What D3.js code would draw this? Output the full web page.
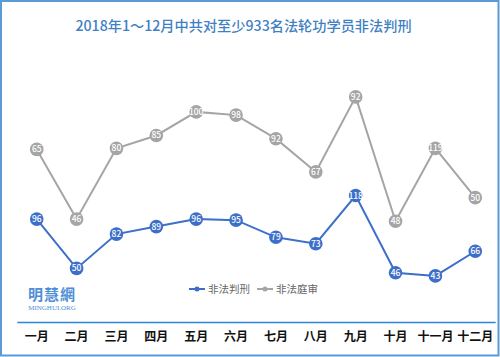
<!DOCTYPE html>
<html><head><meta charset="utf-8">
<script src="https://cdn.jsdelivr.net/npm/d3@7"></script>
<style>html,body{margin:0;padding:0;background:#fff;}svg{display:block;}</style>
</head><body>
<script>
const titleText = "2018年1～12月中共对至少933名法轮功学员非法判刑";
const months = ["一月","二月","三月","四月","五月","六月","七月","八月","九月","十月","十一月","十二月"];
const sentenced = [96,50,82,89,96,95,79,73,118,46,43,66];
const tried = [65,46,80,85,100,98,92,67,92,48,119,50];
const seriesNames = ["非法判刑","非法庭审"];

const W = 500, H = 357;
const svg = d3.select("body").append("svg").attr("width", W).attr("height", H);
const font = "'Noto Sans CJK SC','Noto Sans',sans-serif";

svg.append("rect").attr("x",1).attr("y",1).attr("width",W-2.5).attr("height",H-2.5)
  .attr("fill","#fff").attr("stroke","#5b9bd5").attr("stroke-width",2);

svg.append("text").attr("x",243.5).attr("y",31).attr("text-anchor","middle")
  .attr("font-family",font).attr("font-size",14.2).attr("font-weight",500).attr("fill","#3f7fc4").text(titleText);

const x = d3.scaleBand().domain(months).range([16.8, 495.2]);
const y = d3.scaleLinear().domain([0, 250]).range([322, 54]);

const stacked = d3.stack().keys([0,1])(months.map((m,i)=>[sentenced[i], tried[i]]));

// axis
const xAxis = svg.append("g").attr("transform","translate(0,322)")
  .call(d3.axisBottom(x).tickSize(0).tickPadding(10));
xAxis.select(".domain").attr("stroke","#2f86d6").attr("stroke-width",1.5);
xAxis.selectAll("text").attr("font-family",font).attr("font-size",12).attr("font-weight","bold").attr("fill","#111");

const cx = m => x(m) + x.bandwidth()/2;
const colors = ["#3d6fc9","#a5a5a5"];
const labelVals = [sentenced, tried];

[1,0].forEach(k => {
  const pts = stacked[k].map((d,i)=>[cx(months[i]), y(d[1])]);
  svg.append("path").attr("d", d3.line()(pts)).attr("fill","none")
    .attr("stroke",colors[k]).attr("stroke-width",2);
  const g = svg.append("g");
  pts.forEach((p,i)=>{
    g.append("circle").attr("cx",p[0]).attr("cy",p[1]).attr("r",6.8).attr("fill",colors[k]);
    g.append("text").attr("x",p[0]).attr("y",p[1]+3).attr("text-anchor","middle")
      .attr("font-family",font).attr("font-size",8.5).attr("font-weight",500).attr("fill","#fff")
      .text(labelVals[k][i]);
  });
});

// legend
const lg = svg.append("g");
[[189,0],[257,1]].forEach(([lx,k])=>{
  lg.append("line").attr("x1",lx).attr("x2",lx+16).attr("y1",289).attr("y2",289)
    .attr("stroke",colors[k]).attr("stroke-width",2);
  lg.append("circle").attr("cx",lx+8).attr("cy",289).attr("r",2.5).attr("fill",colors[k]);
  lg.append("text").attr("x",lx+19).attr("y",293).attr("font-family",font)
    .attr("font-size",10.5).attr("fill","#666").text(seriesNames[k]);
});

// logo
svg.append("text").attr("x",52).attr("y",300).attr("text-anchor","middle")
  .attr("font-family","'Noto Sans CJK TC',sans-serif").attr("font-weight","bold").attr("font-size",15)
  .attr("fill","#4d8fd6").attr("letter-spacing",1).text("明慧網");
svg.append("text").attr("x",52).attr("y",309.5).attr("text-anchor","middle")
  .attr("font-family","'Liberation Serif',serif").attr("font-size",7)
  .attr("fill","#4d8fd6").text("MINGHUI.ORG");
</script>
</body></html>
